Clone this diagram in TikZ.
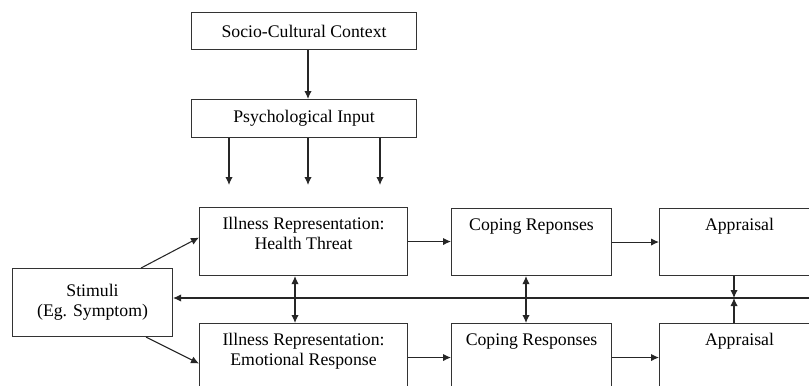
\documentclass[tikz,border=0pt]{standalone}
\usepackage{fontspec}
\setmainfont{Liberation Serif}
\usetikzlibrary{arrows.meta,calc}
\begin{document}
\begin{tikzpicture}[x=0.75pt,y=-0.75pt,
  box/.style={draw=black!80,line width=0.8pt,minimum width=#1,inner sep=0pt},
  lbl/.style={font=\fontsize{13.3}{15}\selectfont,align=center,anchor=north,inner sep=0pt,yshift=-7.5pt},
  arr/.style={draw=black!85,line width=0.8pt,-{Latex[length=6pt,width=5.5pt]}},
  darr/.style={draw=black!85,line width=0.8pt,{Latex[length=6pt,width=5.5pt]}-{Latex[length=6pt,width=5.5pt]}},
  txt/.style={font=\fontsize{13.3}{15}\selectfont,align=center}]
\useasboundingbox (0,0) rectangle (809,385);
\clip (0,0) rectangle (809,385);
% top boxes
\node[box, minimum width=225*0.75pt, minimum height=37*0.75pt, anchor=north west, txt] (soc) at (191,12) {Socio-Cultural Context};
\node[box, minimum width=225*0.75pt, minimum height=38*0.75pt, anchor=north west, txt] (psy) at (191,99) {Psychological Input};
% stimuli
\node[box, minimum width=160*0.75pt, minimum height=68*0.75pt, anchor=north west, txt] (stim) at (12,268) {Stimuli\\(Eg. Symptom)};
% row 1
\node[box, minimum width=208*0.75pt, minimum height=68*0.75pt, anchor=north west,
  label={[lbl]north:Illness Representation:\\Health Threat}] (ill1) at (199,207) {};
\node[box, minimum width=160*0.75pt, minimum height=67*0.75pt, anchor=north west,
  label={[lbl]north:Coping Reponses}] (cop1) at (451,208) {};
\node[box, minimum width=160*0.75pt, minimum height=67*0.75pt, anchor=north west,
  label={[lbl]north:Appraisal}] (app1) at (659,208) {};
% row 2
\node[box, minimum width=208*0.75pt, minimum height=68*0.75pt, anchor=north west,
  label={[lbl]north:Illness Representation:\\Emotional Response}] (ill2) at (199,323) {};
\node[box, minimum width=160*0.75pt, minimum height=68*0.75pt, anchor=north west,
  label={[lbl]north:Coping Responses}] (cop2) at (451,323) {};
\node[box, minimum width=160*0.75pt, minimum height=68*0.75pt, anchor=north west,
  label={[lbl]north:Appraisal}] (app2) at (659,323) {};
% helper coordinates
\coordinate (p1) at (229,185);
\coordinate (p2) at (308,185);
\coordinate (p3) at (380,185);
\coordinate (fb) at (809,298);
\coordinate (xi) at (295,0);
\coordinate (xc) at (526,0);
\coordinate (xa) at (734,0);
% connectors
\draw[arr] (soc.south -| p2) -- (psy.north -| p2);
\draw[arr] (psy.south -| p1) -- (p1);
\draw[arr] (psy.south -| p2) -- (p2);
\draw[arr] (psy.south -| p3) -- (p3);
\draw[arr] ($(stim.north east)+(-32,0)$) -- ($(ill1.west)+(0,-4)$);
\draw[arr] ($(stim.south east)+(-27,0)$) -- ($(ill2.west)+(0,6)$);
\draw[arr] (ill1.east) -- (cop1.west |- ill1.east);
\draw[arr] (cop1.east) -- (app1.west |- cop1.east);
\draw[arr] (ill2.east) -- (cop2.west |- ill2.east);
\draw[arr] (cop2.east) -- (app2.west |- cop2.east);
\draw[arr] (fb) -- (fb -| stim.east);
\draw[darr] (ill1.south -| xi) -- (ill2.north -| xi);
\draw[darr] (cop1.south -| xc) -- (cop2.north -| xc);
\draw[arr] (app1.south -| xa) -- (fb -| xa);
\draw[arr] (app2.north -| xa) -- (fb -| xa);
\end{tikzpicture}
\end{document}
